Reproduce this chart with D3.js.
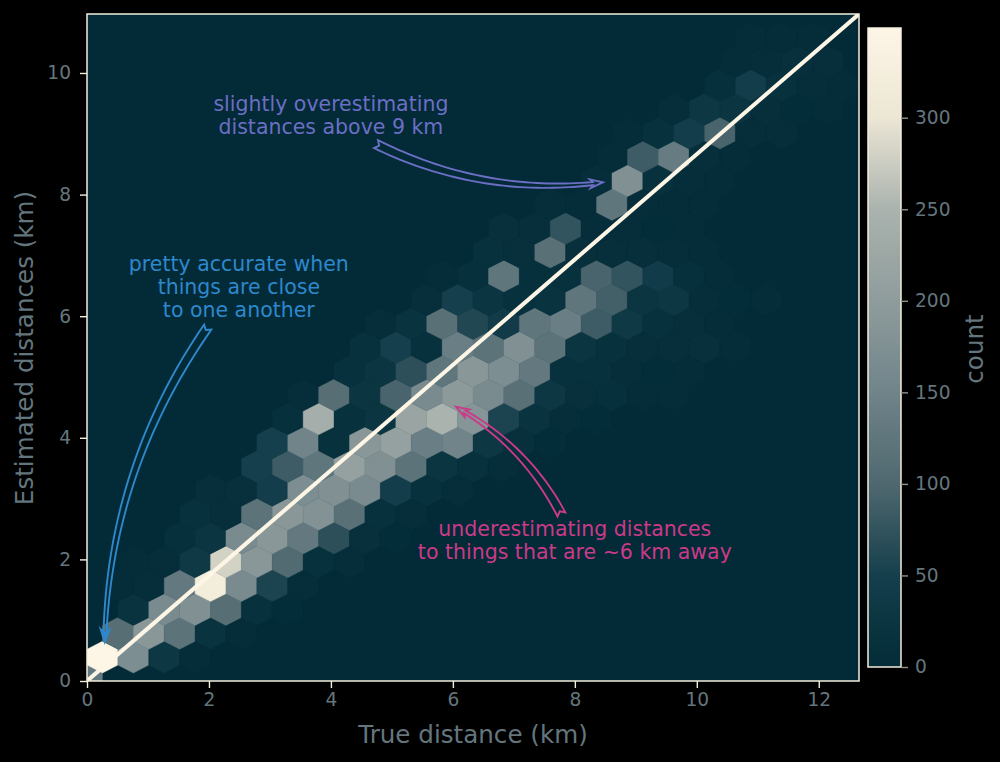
<!DOCTYPE html>
<html><head><meta charset="utf-8">
<script src="https://cdn.jsdelivr.net/npm/d3@7"></script>
<style>html,body{margin:0;padding:0;background:#000;overflow:hidden}text{font-family:"DejaVu Sans",sans-serif}</style>
</head><body><svg id="c" width="1000" height="762"></svg>
<script>
const row00=[130];
const row01=[350,170,30,3];
const row02=[0,110,190,120,20,3];
const row03=[0,20,165,175,110,15,4];
const row04=[0,3,5,130,320,165,55,5];
const row05=[0,3,5,35,280,190,105,15,6];
const row06=[0,0,0,12,25,165,190,130,70,10,4];
const row07=[0,0,0,15,8,120,190,180,115,15,5];
const row08=[0,0,0,0,8,10,45,170,175,165,45,15,6];
const row09=[0,0,0,0,0,50,85,125,210,175,120,25,15,5];
const row10=[0,0,0,0,0,0,50,150,15,190,210,140,150,30,10,4];
const row11=[0,0,0,0,0,0,12,240,15,25,220,250,185,55,20,6,4];
const row12=[0,0,0,0,0,0,0,6,110,25,95,165,195,165,115,30,10,12,3,2];
const row13=[0,0,0,0,0,0,0,0,15,25,70,125,190,170,130,15,15,5,4,3];
const row14=[0,0,0,0,0,0,0,0,0,15,50,15,140,120,175,120,25,15,8,8,10,2];
const row15=[0,0,0,0,0,0,0,0,0,5,20,115,60,40,125,140,85,35,15,8,3];
const row16=[0,0,0,0,0,0,0,0,0,0,0,8,50,25,15,20,125,90,25,30,6,4,3];
const row17=[0,0,0,0,0,0,0,0,0,0,0,2,12,125,12,15,95,75,40,12,3];
const row18=[0,0,0,0,0,0,0,0,0,0,0,0,0,15,10,115,10,8,8,5,3];
const row19=[0,0,0,0,0,0,0,0,0,0,0,0,0,10,8,75,5,6,4,2];
const row20=[0,0,0,0,0,0,0,0,0,0,0,0,0,0,0,5,3,125,6,3,2];
const row21=[0,0,0,0,0,0,0,0,0,0,0,0,0,0,0,0,5,175,15,5,3];
const row22=[0,0,0,0,0,0,0,0,0,0,0,0,0,0,0,0,0,3,85,135,8,3];
const row23=[0,0,0,0,0,0,0,0,0,0,0,0,0,0,0,0,0,3,15,45,95,6,5];
const row24=[0,0,0,0,0,0,0,0,0,0,0,0,0,0,0,0,0,0,0,5,30,25,8,4,3];
const row25=[0,0,0,0,0,0,0,0,0,0,0,0,0,0,0,0,0,0,0,0,12,45,15,6,3];
const row26=[0,0,0,0,0,0,0,0,0,0,0,0,0,0,0,0,0,0,0,0,0,3,5,10,7];
const row27=[0,0,0,0,0,0,0,0,0,0,0,0,0,0,0,0,0,0,0,0,0,3,3,3];
const hexRows=[row00,row01,row02,row03,row04,row05,row06,row07,row08,row09,row10,row11,row12,row13,row14,row15,row16,row17,row18,row19,row20,row21,row22,row23,row24,row25,row26,row27];

const xDomainMax=12.66, yDomainMax=10.97, countMax=349;
const gridX=25, gridY=14;
const xTicks=[0,2,4,6,8,10,12];
const yTicks=[0,2,4,6,8,10];
const countTicks=[0,50,100,150,200,250,300];
const cmapStops=[0,50,100,150,200,250,300,349];
const cmapColors=["#032b38","#153f4c","#4f686f","#70848a","#8f9c9c","#aab3ae","#ece6d5","#fdf6e6"];

const annTexts=[["slightly overestimating","distances above 9 km"],["pretty accurate when","things are close","to one another"],["underestimating distances","to things that are ~6 km away"]];
const annAnchorX=[4.0,2.49,8.0];
const annFirstBaselineY=[9.38,6.75,2.38];
const annColors=["#6b6fc4","#2e88cc","#cb3a88"];
const arrowTailX=[4.74,1.98,7.78];
const arrowTailY=[8.83,5.82,2.74];
const arrowTipX=[8.46,0.29,6.05];
const arrowTipY=[8.2,0.64,4.51];
const arrowHeadSolid=[false,true,false];

const svg=d3.select("#c");
const x=d3.scaleLinear([0,xDomainMax],[87,859]);
const y=d3.scaleLinear([0,yDomainMax],[681,14]);
const cb=d3.scaleLinear([0,countMax],[667,28]);
const color=d3.scaleLinear(cmapStops,cmapColors).interpolate(d3.interpolateRgb).clamp(true);

svg.append("defs").append("clipPath").attr("id","ax").append("rect")
  .attr("x",x(0)).attr("y",y(yDomainMax)).attr("width",x(xDomainMax)-x(0)).attr("height",y(0)-y(yDomainMax));
svg.append("rect").attr("x",x(0)).attr("y",y(yDomainMax)).attr("width",x(xDomainMax)-x(0)).attr("height",y(0)-y(yDomainMax)).attr("fill","#022a37");

const sx=xDomainMax/gridX, sy=yDomainMax/gridY;
const cells=hexRows.flatMap((r,k)=>r.map((c,i)=>({k,i,c,cx:(i+(k%2?0.5:0))*sx,cy:k*sy/2}))).filter(d=>d.c>0);
const hexShape=[[.5,-.5],[.5,.5],[0,1],[-.5,.5],[-.5,-.5],[0,-1]];
const line=d3.line().curve(d3.curveLinearClosed);
svg.append("g").attr("clip-path","url(#ax)").selectAll("path").data(cells).join("path")
  .attr("d",d=>line(hexShape.map(([a,b])=>[x(d.cx+a*sx),y(d.cy+b*sy/3)])))
  .attr("fill",d=>color(d.c)).attr("stroke",d=>color(d.c)).attr("stroke-width",0.4);

svg.append("g").attr("clip-path","url(#ax)").append("line")
  .attr("x1",x(0)).attr("y1",y(0)).attr("x2",x(xDomainMax)).attr("y2",y(yDomainMax))
  .attr("stroke","#fdf6e6").attr("stroke-width",4);

function arrowShape(t,h,rad){
  const dx=h[0]-t[0],dy=h[1]-t[1];
  const c=[(t[0]+h[0])/2+rad*dy,(t[1]+h[1])/2-rad*dx];
  const pt=u=>[(1-u)*(1-u)*t[0]+2*u*(1-u)*c[0]+u*u*h[0],(1-u)*(1-u)*t[1]+2*u*(1-u)*c[1]+u*u*h[1]];
  const tan=u=>{const a=2*(1-u)*(c[0]-t[0])+2*u*(h[0]-c[0]),b=2*(1-u)*(c[1]-t[1])+2*u*(h[1]-c[1]),n=Math.hypot(a,b);return [a/n,b/n];};
  const len=Math.hypot(dx,dy)*1.02, headLen=10, uNeck=1-headLen/len, w0=4.4,w1=1.5,headW=4.4,neckBack=-2.5;
  const L=[],R=[];
  for(let i=0;i<=40;i++){const s=i/40,u=s*uNeck,p=pt(u),d=tan(u),w=w0+(w1-w0)*Math.pow(s,1.3);
    L.push([p[0]-d[1]*w,p[1]+d[0]*w]);R.push([p[0]+d[1]*w,p[1]-d[0]*w]);}
  const pn=pt(uNeck),dn=tan(uNeck);
  const hb=[pn[0]+dn[0]*neckBack,pn[1]+dn[1]*neckBack];
  const hL=[hb[0]-dn[1]*headW,hb[1]+dn[0]*headW],hR=[hb[0]+dn[1]*headW,hb[1]-dn[0]*headW];
  const d0=tan(0),notch=[t[0]+d0[0]*3.5,t[1]+d0[1]*3.5];
  return {outline:d3.line()([notch,...L,hL,h,hR,...R.reverse()])+"Z",head:d3.line()([L[40],hL,h,hR,R.length?[pn[0]+dn[1]*w1Val(),pn[1]-dn[0]*w1Val()]:hR])+"Z"};
  function w1Val(){return w1;}
}
const arrowRad=-0.15;
annColors.forEach((col,i)=>{
  const tail=[x(arrowTailX[i]),y(arrowTailY[i])],tip=[x(arrowTipX[i]),y(arrowTipY[i])];
  const s=arrowShape(tail,tip,arrowRad);
  svg.append("path").attr("d",s.outline).attr("fill","none").attr("stroke",col).attr("stroke-width",1.9).attr("stroke-linejoin","miter");
  if(arrowHeadSolid[i]) svg.append("path").attr("d",s.head).attr("fill",col);
});

annTexts.forEach((lines,i)=>{
  svg.append("text").attr("fill",annColors[i]).attr("font-size",20.5).attr("text-anchor","middle")
    .selectAll("tspan").data(lines).join("tspan")
    .attr("x",x(annAnchorX[i])).attr("y",(d,j)=>y(annFirstBaselineY[i])+j*23).text(d=>d);
});

svg.append("rect").attr("x",x(0)).attr("y",y(yDomainMax)).attr("width",x(xDomainMax)-x(0)).attr("height",y(0)-y(yDomainMax))
  .attr("fill","none").attr("stroke","#f4eedd").attr("stroke-width",1.5);

const tickCol="#64767d";
function style(g,lineCol){g.select(".domain").remove();g.selectAll(".tick line").attr("stroke",lineCol).attr("stroke-width",1.4);
  g.selectAll(".tick text").attr("fill",tickCol).attr("font-size",18.6).attr("font-family","DejaVu Sans");}
svg.append("g").attr("transform","translate(0,681)").call(d3.axisBottom(x).tickValues(xTicks).tickSize(7).tickPadding(5).tickFormat(d3.format("d"))).call(style,"#f4eedd");
svg.append("g").attr("transform","translate(87,0)").call(d3.axisLeft(y).tickValues(yTicks).tickSize(7).tickPadding(9).tickFormat(d3.format("d"))).call(style,"#f4eedd");
svg.append("text").attr("x",473).attr("y",743).attr("text-anchor","middle").attr("fill",tickCol).attr("font-size",24.6).text("True distance (km)");
svg.append("text").attr("transform","translate(33,348) rotate(-90)").attr("text-anchor","middle").attr("fill",tickCol).attr("font-size",24.6).text("Estimated distances (km)");

const grad=svg.select("defs").append("linearGradient").attr("id","cg").attr("x1",0).attr("x2",0).attr("y1",1).attr("y2",0);
cmapStops.forEach((s,i)=>grad.append("stop").attr("offset",s/countMax).attr("stop-color",cmapColors[i]));
svg.append("rect").attr("x",868).attr("y",cb(countMax)).attr("width",33).attr("height",cb(0)-cb(countMax)).attr("fill","url(#cg)").attr("stroke","#f4eedd").attr("stroke-width",1.5);
svg.append("g").attr("transform","translate(901,0)").call(d3.axisRight(cb).tickValues(countTicks).tickSize(7).tickPadding(7).tickFormat(d3.format("d"))).call(style,"#8f938c");
svg.append("text").attr("transform","translate(983,349) rotate(-90)").attr("text-anchor","middle").attr("fill",tickCol).attr("font-size",24.6).text("count");
</script></body></html>
